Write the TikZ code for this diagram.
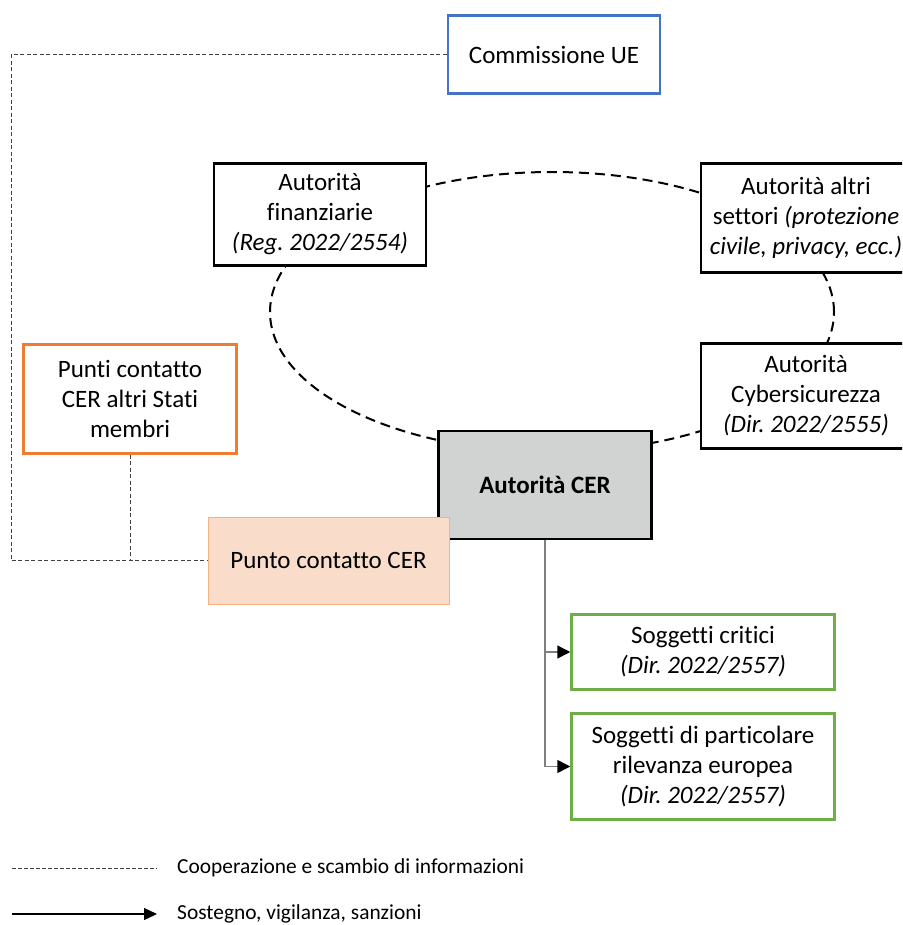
\documentclass[tikz,border=0pt]{standalone}
\usepackage{fontspec}
\setmainfont[Ligatures=NoCommon]{Carlito}
\usetikzlibrary{arrows.meta}
\frenchspacing
\definecolor{ueblue}{HTML}{4472C4}
\definecolor{cerorange}{HTML}{ED7D31}
\definecolor{pcfill}{HTML}{F9DDCA}
\definecolor{pcborder}{HTML}{F4B183}
\definecolor{cergrey}{HTML}{D1D3D2}
\definecolor{sgreen}{HTML}{70AD47}
\definecolor{coopgrey}{HTML}{404040}
\definecolor{supgrey}{HTML}{7F7F7F}
\tikzset{
  every node/.style={font=\fontsize{25}{30}\selectfont},
  box/.style={draw, line width=2.5pt, fill=white, align=center, inner sep=0pt},
  coop/.style={draw=coopgrey, line width=1pt, dash pattern=on 4pt off 2.5pt},
  ell/.style={draw=black, line width=2pt, dash pattern=on 10pt off 6pt},
  sup/.style={draw=supgrey, line width=1.5pt, -{Triangle[length=13pt,width=13pt,color=black]}},
  legsup/.style={draw=black, line width=1.2pt, -{Triangle[length=13pt,width=12pt,color=black]}},
  legtext/.style={anchor=west, inner sep=0pt, font=\fontsize{21.4}{25}\selectfont}
}
\begin{document}
\begin{tikzpicture}[x=1pt,y=-1pt]
\useasboundingbox (0,0) rectangle (902,925);
\clip (0,0) rectangle (902,925);
% cooperation ellipse (behind the boxes)
\draw[ell] (552,312) ellipse [x radius=282pt, y radius=140pt];
% boxes
\node[box, draw=ueblue, minimum width=212pt, minimum height=78pt] (com) at (554,54.5) {Commissione UE};
\node[box, minimum width=212pt, minimum height=102pt] (fin) at (320,214.5) {Autorità\\finanziarie\\\textit{(Reg. 2022/2554)}};
\node[box, minimum width=210pt, minimum height=109pt] (alt) at (806,218) {Autorità altri\\settori \textit{(protezione}\\\textit{civile, privacy, ecc.)}};
\node[box, minimum width=210pt, minimum height=105pt] (cyb) at (806,396) {Autorità\\Cybersicurezza\\\textit{(Dir. 2022/2555)}};
\node[box, fill=cergrey, minimum width=213pt, minimum height=108pt] (cer) at (545,485) {\textbf{Autorità CER}};
\node[box, draw=cerorange, minimum width=213pt, minimum height=109pt] (pun) at (130,399) {Punti contatto\\CER altri Stati\\membri};
\node[box, draw=pcborder, fill=pcfill, line width=1pt, minimum width=241pt, minimum height=87pt] (pc) at (328.5,560.5) {Punto contatto CER};
\node[box, draw=sgreen, minimum width=263pt, minimum height=75pt] (sc) at (703,652) {Soggetti critici\\\textit{(Dir. 2022/2557)}};
\node[box, draw=sgreen, minimum width=263pt, minimum height=106pt] (sp) at (703,766.5) {Soggetti di particolare\\rilevanza europea\\\textit{(Dir. 2022/2557)}};
% cooperation connectors
\coordinate (c1) at (11,54.5);
\coordinate (c2) at (11,560.5);
\draw[coop] (com.west) -- (c1) -- (c2) -- (pc.west);
\draw[coop] (pun.south) -- (pun.south |- pc.west);
% support connectors
\draw[draw=supgrey, line width=1.5pt] (cer.south) -- (cer.south |- sp.west);
\draw[sup] (cer.south |- sc.west) -- (sc.west);
\draw[sup] (cer.south |- sp.west) -- (sp.west);
% legend
\coordinate (l1a) at (12,868);
\coordinate (l1b) at (157,868);
\coordinate (l2a) at (12,914);
\coordinate (l2b) at (157,914);
\draw[coop, line width=0.8pt, dash pattern=on 3.5pt off 2.5pt] (l1a) -- (l1b);
\draw[legsup] (l2a) -- (l2b);
\node[legtext] (t1) at (177,868) {Cooperazione e scambio di informazioni};
\node[legtext] (t2) at (177,914) {Sostegno, vigilanza, sanzioni};
\end{tikzpicture}
\end{document}
